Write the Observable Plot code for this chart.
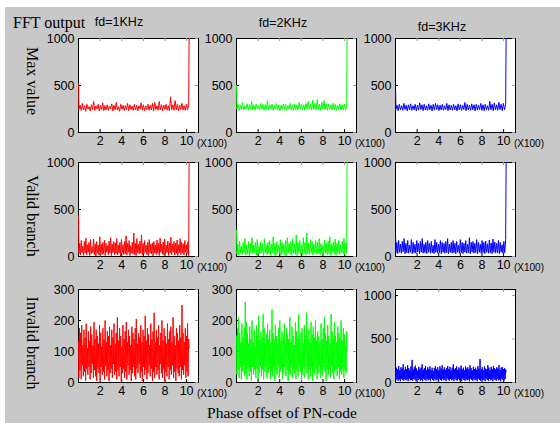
<!DOCTYPE html>
<html><head><meta charset="utf-8">
<script src="https://cdn.jsdelivr.net/npm/d3@7"></script>
<script src="https://cdn.jsdelivr.net/npm/@observablehq/plot@0.6"></script>
<style>
body{margin:0;background:#fff;}
#fig{position:relative;width:560px;height:423px;overflow:hidden;background:#fff;}
#bg{position:absolute;left:5px;top:7px;width:555px;height:416px;background:#c8c8c8;}
.panel{position:absolute;}
#ov{position:absolute;left:0;top:0;pointer-events:none;}
</style></head><body>
<div id="fig"><div id="bg"></div></div>
<script>
// ---- data (phase offset 1..1023; first = offset 1, last = offset 1023) ----
const maxR = [520,245,290,235,310,240,285,225,300,250,275,230,295,240,330,235,280,250,300,228,290,245,315,232,285,240,295,236,280,250,305,230,290,242,320,238,275,226,300,248,290,235,285,240,310,232,295,245,280,236,300,240,290,230,285,248,315,238,295,232,280,244,300,236,290,240,310,228,320,245,285,236,330,240,295,232,290,246,300,238,285,230,380,242,295,236,340,240,300,232,290,244,310,238,285,236,300,240,290,1000];
const maxG = [500,250,300,235,290,245,320,240,285,250,305,238,295,244,330,240,290,236,300,250,285,240,310,246,300,235,295,242,340,238,290,250,300,236,285,244,310,240,295,232,290,246,305,240,300,236,285,248,310,240,295,235,300,244,290,238,320,246,300,240,295,236,310,250,330,242,300,238,345,246,310,240,350,244,300,236,320,248,340,240,305,236,300,244,295,238,310,240,300,236,290,244,305,238,295,240,300,236,290,1000];
const maxB = [440,245,290,232,300,240,285,236,310,244,290,230,295,240,305,236,285,242,300,230,290,238,315,244,295,232,300,240,285,236,305,242,290,230,300,238,310,244,295,232,290,240,300,236,285,244,310,232,295,240,290,236,300,242,285,230,305,240,295,236,290,244,320,232,300,240,290,236,305,242,295,230,300,238,290,244,310,236,295,232,300,240,285,236,330,242,300,232,315,240,295,236,320,244,300,232,310,240,300,1000];
const valR = [430,
 30,140,15,170,40,110,10,160,35,195,20,125,45,150,10,180,30,105,40,
 185,20,135,5,160,35,120,15,210,40,130,20,150,30,175,10,140,45,115,20,
 165,35,200,10,130,40,160,20,145,30,190,15,120,35,150,5,180,40,125,20,
 160,30,220,15,140,45,170,10,115,35,150,25,250,20,140,10,190,40,130,25,
 165,35,230,15,140,30,170,45,120,20,150,10,180,35,130,25,145,5,160,40,
 120,20,175,35,140,10,195,45,130,25,155,15,185,30,120,40,165,10,145,35,
 205,20,130,45,160,15,140,30,175,10,125,40,190,20,150,35,135,15,170,45,
 125,30,155,10,1000];
const valG = [280,
 25,130,15,165,35,110,20,150,40,190,15,120,30,160,10,140,35,200,25,
 120,40,150,15,180,30,110,25,160,35,140,10,190,40,120,20,150,30,170,15,
 130,35,210,20,140,10,160,40,120,30,180,15,150,35,130,20,170,10,200,40,
 140,25,160,15,190,35,130,20,230,10,150,40,170,30,120,20,200,35,150,15,
 250,30,140,20,180,40,160,15,130,35,170,25,150,30,190,15,140,35,120,10,
 175,40,145,20,165,30,210,15,135,45,155,25,185,10,140,35,170,20,125,40,
 160,30,195,15,145,35,1000];
const valB = [200,
 40,150,30,170,45,130,35,160,50,190,30,140,40,170,35,120,45,180,30,150,
 40,130,35,170,50,140,30,160,45,190,35,130,40,150,30,170,45,140,35,160,
 40,120,30,180,45,150,35,130,40,170,30,150,45,140,35,160,40,190,30,130,
 45,150,35,170,40,140,30,160,45,120,35,180,40,150,30,140,45,170,35,130,
 40,200,30,150,45,160,35,140,40,180,30,150,45,130,35,170,40,150,30,165,
 45,135,35,175,40,145,30,185,45,155,35,140,40,170,30,150,45,125,35,160,
 40,180,1000];
const invR = [
 130,15,175,40,160,10,185,55,120,20,170,35,145,5,190,45,110,25,165,50,
 135,10,180,30,155,60,120,15,195,40,140,20,170,5,150,45,125,30,185,10,
 160,50,115,25,175,35,140,10,200,55,130,20,165,40,150,5,180,30,120,45,
 170,15,145,60,190,25,125,35,160,10,210,40,135,20,175,50,150,5,115,30,
 185,45,140,15,165,35,195,10,130,55,170,25,150,40,120,5,180,30,160,50,
 140,20,175,10,205,45,125,30,160,60,145,15,185,35,130,5,170,50,150,25,
 215,40,135,10,175,30,155,55,120,20,190,45,140,5,165,35,225,15,130,50,
 170,25,145,40,185,10,120,60,160,30,200,15,135,45,175,5,150,35,125,20,
 190,50,140,10,165,40,180,25,130,55,210,15,150,35,120,5,175,45,160,30,
 135,20,185,50,145,10,250,40,160,25,130,55,175,15,150,35,190,20,140,110];
const invG = [
 150,25,175,40,210,15,160,50,130,10,190,35,145,55,175,20,260,30,195,10,
 160,45,125,20,180,35,140,5,200,50,130,25,170,40,115,15,185,45,150,10,
 215,30,135,55,165,20,145,40,220,10,175,35,125,50,155,15,190,30,140,45,
 170,10,130,35,235,20,160,50,140,5,185,40,150,25,120,55,175,15,200,35,
 135,45,165,10,145,30,190,50,125,20,175,40,155,5,140,35,210,25,130,55,
 180,15,150,45,120,30,195,10,165,40,140,20,220,50,135,35,160,5,175,25,
 125,45,185,15,150,55,225,30,140,10,170,40,130,20,195,50,155,5,180,35,
 145,25,200,45,135,10,165,30,150,55,120,15,190,40,140,20,175,50,210,35,
 160,5,135,45,185,25,150,40,125,15,220,55,165,30,140,10,195,35,150,45,
 130,20,180,50,160,10,145,35,200,25,135,45,175,15,155,40,120,30,165,100];
const invB = [
 120,25,170,40,150,20,190,35,140,15,175,45,160,30,210,20,145,40,180,25,
 155,35,200,15,165,45,140,25,185,30,260,20,150,40,175,35,195,15,160,45,
 135,25,180,40,150,20,170,35,210,15,145,45,165,30,190,20,140,40,175,25,
 155,35,185,15,145,45,170,30,130,20,165,40,190,25,150,35,175,15,140,45,
 185,30,160,20,200,40,150,25,175,35,145,15,165,45,190,30,155,20,180,40,
 140,25,170,35,210,15,150,45,165,30,185,20,145,40,175,25,160,35,195,15,
 150,45,170,30,140,20,185,40,160,25,175,35,150,15,200,45,165,30,140,20,
 180,40,155,25,170,35,145,15,190,45,160,30,270,20,150,40,175,25,140,35,
 185,15,160,45,150,30,200,20,170,40,145,25,180,35,155,15,190,45,165,30,
 150,20,175,40,160,25,200,35,145,15,170,45,180,30,155,20,165,40,150,120];

const columnTitles = ["fd=1KHz", "fd=2KHz", "fd=3KHz"];
const rowLabels = ["Max value", "Valid branch", "Invalid branch"];
const colColors = ["#ff0000", "#00ff00", "#0000ff"];
const xTicks = [200, 400, 600, 800, 1000];
const yTicksBig = [0, 500, 1000];
const yTicksSmall = [0, 100, 200, 300];
const series = [[maxR, maxG, maxB], [valR, valG, valB], [invR, invG, invB]];
const yDomains = [[[0,1000],[0,1000],[0,1000]], [[0,1000],[0,1000],[0,1000]], [[0,300],[0,300],[0,1070]]];
const yTickSets = [[yTicksBig,yTicksBig,yTicksBig],[yTicksBig,yTicksBig,yTicksBig],[yTicksSmall,yTicksSmall,yTicksBig]];
const xMax = 1110, firstOffset = 1, lastOffset = 1023, bandStart = 4, bandEnd = 1019;
const xUnitLabel = "(X100)";
const figTitle = "FFT output";
const xTitle = "Phase offset of PN-code";

// ---- layout ----
const colLeft = [78, 236, 395], fw = 120;
const rowTop = [38, 162, 289], rowH = [94, 94, 93];
const ML = 45, MR = 10, MT = 4, MB = 22;
const fig = document.getElementById("fig");

for (let r = 0; r < 3; r++) {
  for (let c = 0; c < 3; c++) {
    const vals = series[r][c];
    const n = vals.length;
    const data = vals.map((v, i) => ({
      x: i === 0 ? firstOffset : i === n - 1 ? lastOffset : bandStart + (i - 1) * (bandEnd - bandStart) / (n - 3),
      y: v
    }));
    const fh = rowH[r];
    const yt = yTickSets[r][c];
    const chart = Plot.plot({
      width: ML + fw + MR, height: MT + fh + MB,
      marginLeft: ML, marginRight: MR, marginTop: MT, marginBottom: MB,
      style: {background: "transparent", fontFamily: "'Liberation Sans', Arial, sans-serif", fontSize: "12.5px", color: "#000", overflow: "visible"},
      x: {domain: [0, xMax]},
      y: {domain: yDomains[r][c]},
      marks: [
        Plot.frame({fill: "white", stroke: "#000", strokeWidth: 1}),
        Plot.tickX(xTicks, {x: d => d, stroke: "#000", insetTop: fh - 3}),
        Plot.tickX(xTicks, {x: d => d, stroke: "#999", insetBottom: fh - 3}),
        Plot.tickY(yt, {y: d => d, stroke: "#000", insetRight: fw - 3}),
        Plot.tickY(yt, {y: d => d, stroke: "#999", insetLeft: fw - 3}),
        Plot.line(data, {x: "x", y: "y", stroke: colColors[c], strokeWidth: 1, clip: true}),
        Plot.axisX({ticks: xTicks, tickFormat: d => String(d / 100), tickSize: 0, tickPadding: 4, label: null}),
        Plot.axisY({ticks: yt, tickFormat: d => String(d), tickSize: 0, tickPadding: 4, label: null})
      ]
    });
    chart.classList.add("panel");
    chart.style.left = (colLeft[c] - ML) + "px";
    chart.style.top = (rowTop[r] - MT) + "px";
    fig.appendChild(chart);
  }
}

// ---- overlay text ----
const ov = d3.select(fig).append("svg").attr("id", "ov").attr("width", 560).attr("height", 423);
ov.append("text").text(figTitle).attr("x", 13).attr("y", 22).attr("dominant-baseline", "central")
  .style("font-family", "'Liberation Serif', 'Times New Roman', serif").style("font-size", "16px");
const titleX = [119, 283, 442], titleY = [22, 23, 27];
columnTitles.forEach((t, i) => ov.append("text").text(t).attr("x", titleX[i]).attr("y", titleY[i])
  .attr("text-anchor", "middle").attr("dominant-baseline", "central")
  .style("font-family", "'Liberation Sans', Arial, sans-serif").style("font-size", "12.5px"));
const labelY = [81, 216, 343];
rowLabels.forEach((t, i) => ov.append("text").text(t).attr("transform", `translate(32,${labelY[i]}) rotate(90)`)
  .attr("text-anchor", "middle").attr("dominant-baseline", "central")
  .style("font-family", "'Liberation Serif', 'Times New Roman', serif").style("font-size", "16px"));
for (let r = 0; r < 3; r++) for (let c = 0; c < 3; c++) {
  ov.append("text").text(xUnitLabel).attr("x", colLeft[c] + fw - 1).attr("y", rowTop[r] + rowH[r] + 11)
    .attr("dominant-baseline", "central")
    .style("font-family", "'Liberation Sans', Arial, sans-serif").style("font-size", "10px");
}
ov.append("text").text(xTitle).attr("x", 282).attr("y", 412).attr("text-anchor", "middle").attr("dominant-baseline", "central")
  .style("font-family", "'Liberation Serif', 'Times New Roman', serif").style("font-size", "15.5px");
</script>
</body></html>
